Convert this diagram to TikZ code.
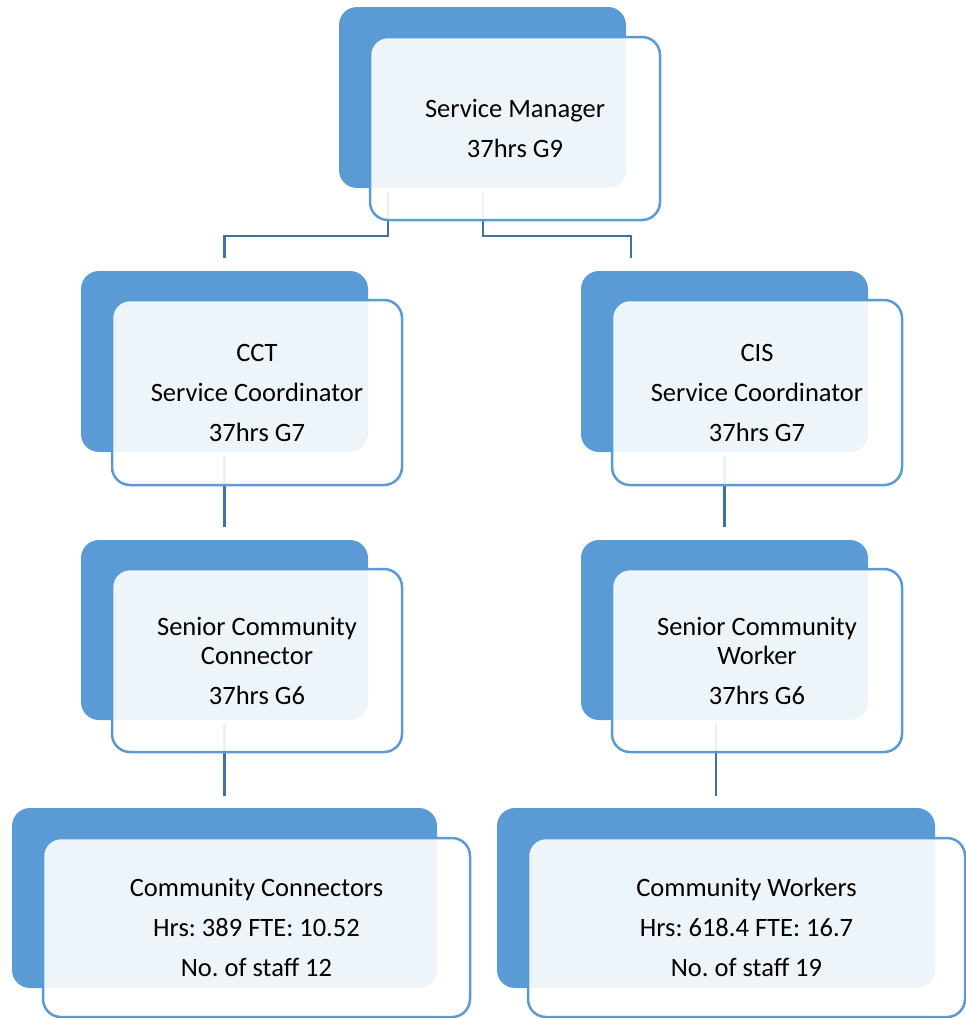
\documentclass[tikz,border=0pt]{standalone}
\usepackage{fontspec}
\setmainfont{Carlito}
\frenchspacing
\definecolor{cardblue}{HTML}{5B9BD5}
\definecolor{linkblue}{HTML}{41719C}
\begin{document}
\begin{tikzpicture}[x=1pt, y=-1pt,
		back/.style={fill=cardblue, rounded corners=18pt, inner sep=0pt, minimum height=181pt},
		front/.style={fill=white, fill opacity=.9, text opacity=1, draw=cardblue, line width=2.5pt, rounded corners=18pt,
			align=center, inner sep=0pt, minimum height=183pt, font=\fontsize{26.5}{29}\selectfont},
		link/.style={draw=linkblue, line width=2.5pt}]
			\useasboundingbox (0,0) rectangle (966,1018);
			% back cards
			\node[back, minimum width=287pt] (smb) at (482.5, 97.5) {};
			\node[back, minimum width=287pt] (cctb) at (224.5, 361.5) {};
			\node[back, minimum width=287pt] (cisb) at (724.5, 361.5) {};
			\node[back, minimum width=287pt, minimum height=180pt] (sccb) at (224.5, 630) {};
			\node[back, minimum width=287pt, minimum height=180pt] (scwb) at (724.5, 630) {};
			\node[back, minimum width=425pt, minimum height=180pt] (ccb) at (224.5, 898) {};
			\node[back, minimum width=438pt, minimum height=180pt] (cwb) at (716, 898) {};
			% links
			\draw[link] ([xshift=-94.5pt, yshift=-4pt]smb.south) -- ++(0,44) -| ([yshift=13pt]cctb.north);
			\draw[link] ([xshift=0.5pt, yshift=-4pt]smb.south) -- ++(0,44) -| ([xshift=-93.5pt, yshift=13pt]cisb.north);
			\draw[link] ([yshift=-4pt]cctb.south) -- ([yshift=13pt]sccb.north);
			\draw[link] ([yshift=-4pt]cisb.south) -- ([yshift=13pt]scwb.north);
			\draw[link] ([yshift=-3pt]sccb.south) -- ([yshift=12pt]ccb.north);
			\draw[link] ([xshift=-8.5pt, yshift=-3pt]scwb.south) -- ([yshift=12pt]cwb.north);
			% front cards
			\node[front, minimum width=290pt] (sm) at (515, 128.5) {Service Manager\\[11pt] 37hrs G9};
			\node[front, minimum width=290pt, minimum height=185pt] (cct) at (257, 392.5) {CCT\\[11pt] Service Coordinator\\[11pt] 37hrs G7};
			\node[front, minimum width=290pt, minimum height=185pt] (cis) at (757, 392.5) {CIS\\[11pt] Service Coordinator\\[11pt] 37hrs G7};
			\node[front, minimum width=290pt] (scc) at (257, 660.5) {Senior Community\\ Connector\\[11pt] 37hrs G6};
			\node[front, minimum width=290pt] (scw) at (757, 660.5) {Senior Community\\ Worker\\[11pt] 37hrs G6};
			\node[front, minimum width=427pt, minimum height=179pt] (cc) at (256.5, 927.5) {Community Connectors\\[11pt] Hrs: 389 FTE: 10.52\\[11pt] No. of staff 12};
			\node[front, minimum width=437pt, minimum height=179pt] (cw) at (746.5, 927.5) {Community Workers\\[11pt] Hrs: 618.4 FTE: 16.7\\[11pt] No. of staff 19};
		\end{tikzpicture}
\end{document}
